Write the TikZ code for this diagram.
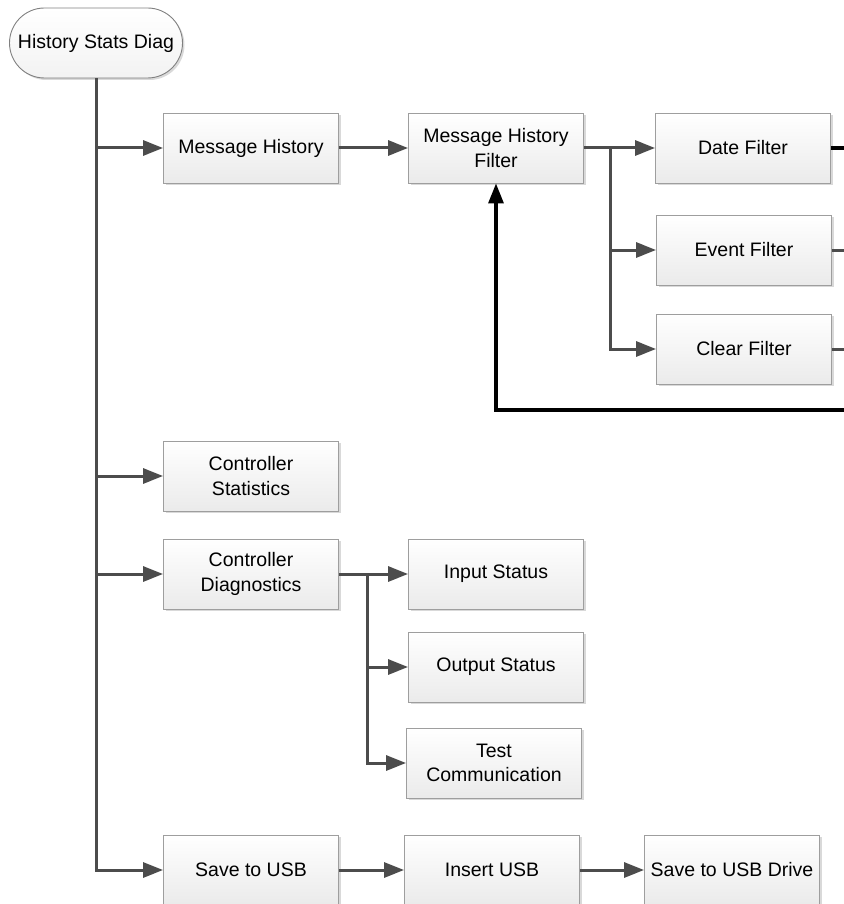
\documentclass[tikz,border=0pt]{standalone}
\usepackage{fontspec}
\setmainfont{Liberation Sans}
\usetikzlibrary{arrows.meta,shadows}
\begin{document}
\begin{tikzpicture}[x=1pt,y=-1pt,
  box/.style={draw=black!38, line width=0.9pt, top color=white, bottom color=black!8,
    minimum width=175pt, minimum height=70pt, align=center, inner sep=2pt,
    font=\fontsize{19.5}{24.5}\selectfont,
    drop shadow={shadow xshift=2pt, shadow yshift=-2pt, opacity=0.15, fill=black}},
  rootbox/.style={box, rounded corners=35pt, minimum width=173pt, draw=black!50,
    bottom color=black!5},
  conn/.style={draw=black!70, line width=3pt, -{Triangle[length=20pt,width=15pt]}},
  wire/.style={draw=black!70, line width=3pt},
  fb/.style={draw=black, line width=3.2pt},
  fbarrow/.style={draw=black, line width=3.2pt, -{Triangle[length=20pt,width=15pt]}}]
\useasboundingbox (0,0) rectangle (843,904);

\node[rootbox] (root) at (96,43) {History Stats Diag};
\node[box] (mh)  at (251,148) {Message History};
\node[box] (mhf) at (496,148) {Message History\\Filter};
\node[box] (df)  at (743,148) {Date Filter};
\node[box] (ef)  at (744,250) {Event Filter};
\node[box] (cf)  at (744,349) {Clear Filter};
\node[box] (cs)  at (251,476) {Controller\\Statistics};
\node[box] (cd)  at (251,574) {Controller\\Diagnostics};
\node[box] (is)  at (496,574) {Input Status};
\node[box] (os)  at (496,667) {Output Status};
\node[box] (tc)  at (494,763) {Test\\Communication};
\node[box] (su)  at (251,870) {Save to USB};
\node[box] (iu)  at (492,870) {Insert USB};
\node[box] (sd)  at (732,870) {Save to USB Drive};

% trunk
\draw[conn] (root.south) |- (su.west);
\draw[conn] (root.south |- mh.west) -- (mh.west);
\draw[conn] (root.south |- cs.west) -- (cs.west);
\draw[conn] (root.south |- cd.west) -- (cd.west);

% message history
\draw[conn] (mh.east) -- (mhf.west);
\coordinate (j1) at (610,148);
\draw[wire] (mhf.east) -- (j1);
\draw[conn] (j1) -- (df.west);
\draw[conn] (j1) |- (ef.west);
\draw[conn] (j1) |- (cf.west);

% feedback
\coordinate (dfR) at (845,148);
\coordinate (efR) at (845,250);
\coordinate (cfR) at (845,349);
\coordinate (fbR) at (845,410);
\draw[fb] (df.east) -- (dfR);
\draw[wire] (ef.east) -- (efR);
\draw[wire] (cf.east) -- (cfR);
\draw[fbarrow] (fbR) -| (mhf.south);

% diagnostics
\coordinate (j2) at (367,574);
\draw[wire] (cd.east) -- (j2);
\draw[conn] (j2) -- (is.west);
\draw[conn] (j2) |- (os.west);
\draw[conn] (j2) |- (tc.west);

% usb
\draw[conn] (su.east) -- (iu.west);
\draw[conn] (iu.east) -- (sd.west);
\end{tikzpicture}
\end{document}
